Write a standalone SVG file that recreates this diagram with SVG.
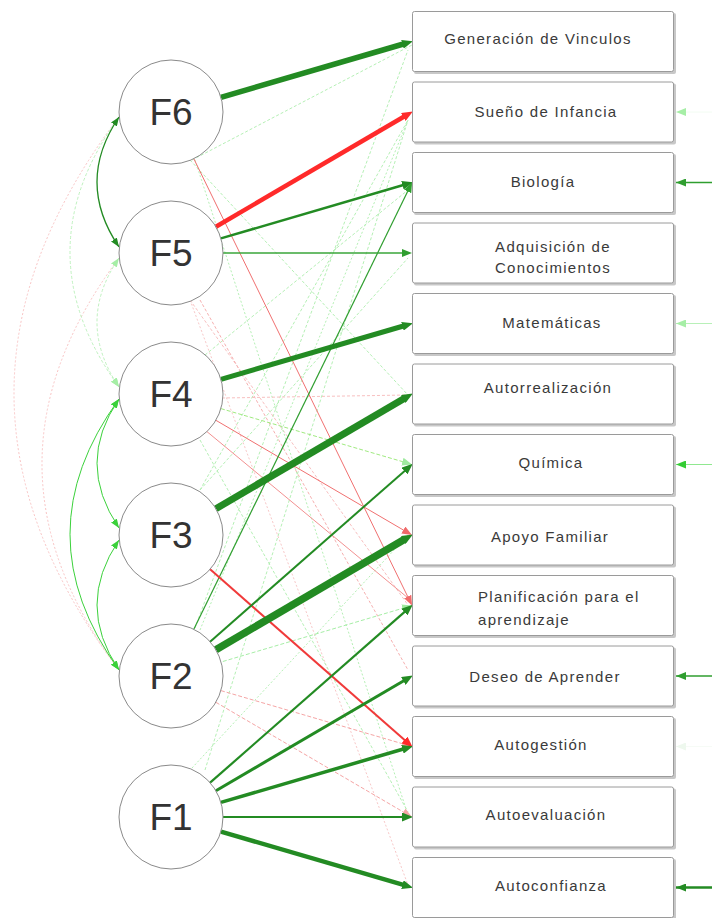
<svg xmlns="http://www.w3.org/2000/svg" width="712" height="918" viewBox="0 0 712 918">
<style>
.box{fill:#fff;stroke:#9a9a9a;stroke-width:1}
.shadow{fill:#c8c8c8}
.lbl{font-family:"Liberation Sans",Arial,sans-serif;font-size:15px;letter-spacing:1.3px;fill:#3a3a3a}
.fac{fill:#fff;stroke:#8a8a8a;stroke-width:1}
.flbl{font-family:"Liberation Sans",Arial,sans-serif;font-size:37px;fill:#333;text-anchor:middle}
.e{fill:none}
</style>
<defs>
<marker id="a-dg" viewBox="0 0 11 9" refX="1" refY="4.5" markerWidth="11" markerHeight="9" markerUnits="userSpaceOnUse" orient="auto"><path d="M0,0 L11,4.5 L0,9 z" fill="#238b23"/></marker>
<marker id="a-mg" viewBox="0 0 10 8" refX="1" refY="4" markerWidth="10" markerHeight="8" markerUnits="userSpaceOnUse" orient="auto"><path d="M0,0 L10,4 L0,8 z" fill="#2f9e2f"/></marker>
<marker id="a-r" viewBox="0 0 11 9" refX="1" refY="4.5" markerWidth="11" markerHeight="9" markerUnits="userSpaceOnUse" orient="auto"><path d="M0,0 L11,4.5 L0,9 z" fill="#ff2a2a"/></marker>
<marker id="a-mr" viewBox="0 0 10 8" refX="1" refY="4" markerWidth="10" markerHeight="8" markerUnits="userSpaceOnUse" orient="auto"><path d="M0,0 L10,4 L0,8 z" fill="#f06a6a"/></marker>
<marker id="a-lr" viewBox="0 0 10 8" refX="1" refY="4" markerWidth="10" markerHeight="8" markerUnits="userSpaceOnUse" orient="auto"><path d="M0,0 L10,4 L0,8 z" fill="#f5a5a5"/></marker>
<marker id="a-lg" viewBox="0 0 10 8" refX="1" refY="4" markerWidth="10" markerHeight="8" markerUnits="userSpaceOnUse" orient="auto"><path d="M0,0 L10,4 L0,8 z" fill="#9fea9f"/></marker>
<marker id="c-dg" viewBox="0 0 9 7" refX="9" refY="3.5" markerWidth="9" markerHeight="7" markerUnits="userSpaceOnUse" orient="auto-start-reverse"><path d="M0,0 L9,3.5 L0,7 z" fill="#238b23"/></marker>
<marker id="c-g" viewBox="0 0 9 7" refX="9" refY="3.5" markerWidth="9" markerHeight="7" markerUnits="userSpaceOnUse" orient="auto-start-reverse"><path d="M0,0 L9,3.5 L0,7 z" fill="#3bd13b"/></marker>
<marker id="c-lg" viewBox="0 0 9 7" refX="9" refY="3.5" markerWidth="9" markerHeight="7" markerUnits="userSpaceOnUse" orient="auto-start-reverse"><path d="M0,0 L9,3.5 L0,7 z" fill="#a6eea6"/></marker>
<marker id="r-dg" viewBox="0 0 10 8" refX="10" refY="4" markerWidth="10" markerHeight="8" markerUnits="userSpaceOnUse" orient="auto"><path d="M0,0 L10,4 L0,8 z" fill="#238b23"/></marker>
<marker id="r-mg" viewBox="0 0 10 8" refX="10" refY="4" markerWidth="10" markerHeight="8" markerUnits="userSpaceOnUse" orient="auto"><path d="M0,0 L10,4 L0,8 z" fill="#2f9e2f"/></marker>
<marker id="r-g" viewBox="0 0 10 8" refX="10" refY="4" markerWidth="10" markerHeight="8" markerUnits="userSpaceOnUse" orient="auto"><path d="M0,0 L10,4 L0,8 z" fill="#33cc33"/></marker>
<marker id="r-lg" viewBox="0 0 10 8" refX="10" refY="4" markerWidth="10" markerHeight="8" markerUnits="userSpaceOnUse" orient="auto"><path d="M0,0 L10,4 L0,8 z" fill="#a6eea6"/></marker>
<marker id="r-vl" viewBox="0 0 10 8" refX="10" refY="4" markerWidth="10" markerHeight="8" markerUnits="userSpaceOnUse" orient="auto"><path d="M0,0 L10,4 L0,8 z" fill="#eef8ee"/></marker>
</defs>
<rect width="712" height="918" fill="#fff"/>

<g id="connectors">
<!-- faint loadings -->
<g stroke-width="1" class="e">
<line x1="192" y1="160" x2="412" y2="45" stroke="#b5f0b5" stroke-dasharray="3,2"/>
<line x1="195" y1="628" x2="408" y2="50" stroke="#b5f0b5" stroke-dasharray="3,2"/>
<line x1="205" y1="770" x2="408" y2="120" stroke="#b5f0b5" stroke-dasharray="3,2"/>
<line x1="200" y1="630" x2="408" y2="120" stroke="#b5f0b5" stroke-dasharray="2,2"/>
<line x1="200" y1="490" x2="408" y2="120" stroke="#b5f0b5" stroke-dasharray="3,2"/>
<line x1="205" y1="355" x2="408" y2="190" stroke="#b5f0b5" stroke-dasharray="3,2"/>
<line x1="200" y1="490" x2="408" y2="258" stroke="#b5f0b5" stroke-dasharray="3,2"/>
<line x1="190" y1="160" x2="408" y2="395" stroke="#b5f0b5" stroke-dasharray="3,2"/>
<line x1="190" y1="300" x2="408" y2="605" stroke="#f8c0c0" stroke-dasharray="3,2"/>
<line x1="200" y1="300" x2="408" y2="670" stroke="#f6b0b0" stroke-dasharray="3,2"/>
<line x1="195" y1="160" x2="408" y2="815" stroke="#b5f0b5" stroke-dasharray="2,2"/>
<line x1="190" y1="300" x2="408" y2="885" stroke="#f8c8c8" stroke-dasharray="2,2"/>
<line x1="192" y1="768" x2="408" y2="535" stroke="#b5f0b5" stroke-dasharray="2,2"/>
<line x1="200" y1="440" x2="408" y2="812" stroke="#b5f0b5" stroke-dasharray="3,2"/>
<line x1="205" y1="430" x2="408" y2="598" stroke="#f29090"/>
<line x1="222" y1="398" x2="408" y2="395" stroke="#f8c0c0" stroke-dasharray="3,2"/>
</g>
<g class="e">
<line x1="220.9" y1="408.6" x2="403.4" y2="461.9" stroke="#a0ea80" stroke-width="1" stroke-dasharray="4,2" marker-end="url(#a-lg)"/>
<line x1="222.8" y1="661.5" x2="403.4" y2="608.1" stroke="#a6eea6" stroke-width="1" stroke-dasharray="4,2" marker-end="url(#a-lg)"/>
<line x1="220.9" y1="690.6" x2="403.4" y2="744.0" stroke="#f5a5a5" stroke-width="1" stroke-dasharray="4,2" marker-end="url(#a-lr)"/>
<line x1="215.9" y1="702.3" x2="404.2" y2="812.5" stroke="#f5a5a5" stroke-width="1" stroke-dasharray="4,2" marker-end="url(#a-lr)"/>
<line x1="193.8" y1="158.7" x2="408.1" y2="597.4" stroke="#f07070" stroke-width="1" marker-end="url(#a-mr)"/>
<line x1="215.9" y1="420.3" x2="404.2" y2="530.5" stroke="#f07070" stroke-width="1" marker-end="url(#a-mr)"/>
<line x1="193.8" y1="629.3" x2="408.1" y2="190.6" stroke="#2f9e2f" stroke-width="1.2" marker-end="url(#a-mg)"/>
<line x1="210.1" y1="569.3" x2="405.2" y2="740.6" stroke="#f03a3a" stroke-width="2" marker-end="url(#a-r)"/>
<!-- strong loadings -->
<line x1="220.9" y1="97.4" x2="403.4" y2="44.0" stroke="#238b23" stroke-width="5.5" marker-end="url(#a-dg)"/>
<line x1="215.9" y1="226.7" x2="404.2" y2="116.5" stroke="#ff2a2a" stroke-width="4.5" marker-end="url(#a-r)"/>
<line x1="220.9" y1="238.4" x2="403.4" y2="185.0" stroke="#238b23" stroke-width="2.5" marker-end="url(#a-dg)"/>
<line x1="223" y1="253" x2="403" y2="253" stroke="#3aa63a" stroke-width="1.5" marker-end="url(#a-mg)"/>
<line x1="220.9" y1="379.4" x2="403.4" y2="326.0" stroke="#238b23" stroke-width="5" marker-end="url(#a-dg)"/>
<line x1="215.9" y1="508.7" x2="404.2" y2="398.5" stroke="#238b23" stroke-width="7" marker-end="url(#a-dg)"/>
<line x1="210.1" y1="641.7" x2="405.2" y2="470.4" stroke="#238b23" stroke-width="2" marker-end="url(#a-dg)"/>
<line x1="215.9" y1="649.7" x2="404.2" y2="539.5" stroke="#238b23" stroke-width="7.5" marker-end="url(#a-dg)"/>
<line x1="210.1" y1="782.7" x2="405.2" y2="611.4" stroke="#238b23" stroke-width="2.2" marker-end="url(#a-dg)"/>
<line x1="215.9" y1="790.7" x2="404.2" y2="680.5" stroke="#238b23" stroke-width="3" marker-end="url(#a-dg)"/>
<line x1="220.9" y1="802.4" x2="403.4" y2="749.0" stroke="#238b23" stroke-width="3.5" marker-end="url(#a-dg)"/>
<line x1="223" y1="817" x2="403" y2="817" stroke="#238b23" stroke-width="2" marker-end="url(#a-dg)"/>
<line x1="220.9" y1="831.6" x2="403.4" y2="884.9" stroke="#238b23" stroke-width="4.5" marker-end="url(#a-dg)"/>
</g>
<!-- covariances -->
<g class="e">
<path d="M119,117 Q-91,393 119,670" stroke="#f9c4c4" stroke-width="1" stroke-dasharray="2,2"/>
<path d="M119,258 Q-35,464 119,670" stroke="#f9c4c4" stroke-width="1" stroke-dasharray="2,2"/>
<path d="M119,117 Q21,252 119,387" stroke="#bff2bf" stroke-width="1" stroke-dasharray="3,2" marker-end="url(#c-lg)"/>
<path d="M119,258 Q75,322 119,387" stroke="#bff2bf" stroke-width="1" stroke-dasharray="3,2" marker-start="url(#c-lg)" marker-end="url(#c-lg)"/>
<path d="M119,117 Q75,182 119,247" stroke="#238b23" stroke-width="1.3" marker-start="url(#c-dg)" marker-end="url(#c-dg)"/>
<path d="M119,399 Q75,463 119,528" stroke="#3bd13b" stroke-width="1" marker-start="url(#c-g)" marker-end="url(#c-g)"/>
<path d="M119,399 Q21,534 119,670" stroke="#3bd13b" stroke-width="1" marker-start="url(#c-g)" marker-end="url(#c-g)"/>
<path d="M119,540 Q75,605 119,670" stroke="#3bd13b" stroke-width="1" marker-start="url(#c-g)" marker-end="url(#c-g)"/>
</g>
<!-- residuals -->
<g class="e">
<line x1="712" y1="112" x2="676" y2="112" stroke="#f2fcf2" stroke-width="1" marker-end="url(#r-lg)"/>
<line x1="712" y1="182.5" x2="676" y2="182.5" stroke="#2f9e2f" stroke-width="1.5" marker-end="url(#r-mg)"/>
<line x1="712" y1="323.5" x2="676" y2="323.5" stroke="#b8f0b8" stroke-width="1.2" marker-end="url(#r-lg)"/>
<line x1="712" y1="464.5" x2="676" y2="464.5" stroke="#90e890" stroke-width="1.2" marker-end="url(#r-g)"/>
<line x1="712" y1="676" x2="676" y2="676" stroke="#2f9e2f" stroke-width="1.5" marker-end="url(#r-mg)"/>
<line x1="712" y1="746.5" x2="676" y2="746.5" stroke="#f6fbf6" stroke-width="1" marker-end="url(#r-vl)"/>
<line x1="712" y1="887.5" x2="676" y2="887.5" stroke="#238b23" stroke-width="2.5" marker-end="url(#r-dg)"/>
</g>
</g>

<g id="F6"><circle class="fac" cx="171" cy="112" r="52"/><text class="flbl" x="171" y="125">F6</text></g>
<g id="F5"><circle class="fac" cx="171" cy="253" r="52"/><text class="flbl" x="171" y="266">F5</text></g>
<g id="F4"><circle class="fac" cx="171" cy="394" r="52"/><text class="flbl" x="171" y="407">F4</text></g>
<g id="F3"><circle class="fac" cx="171" cy="535" r="52"/><text class="flbl" x="171" y="548">F3</text></g>
<g id="F2"><circle class="fac" cx="171" cy="676" r="52"/><text class="flbl" x="171" y="689">F2</text></g>
<g id="F1"><circle class="fac" cx="171" cy="817" r="52"/><text class="flbl" x="171" y="830">F1</text></g>

<g id="box1"><rect class="shadow" x="414" y="13" width="262" height="61" rx="2"/><rect class="box" x="412.5" y="11.5" width="261" height="60" rx="2"/><text class="lbl" x="538" y="44" text-anchor="middle">Generación de Vinculos</text></g>
<g id="box2"><rect class="shadow" x="414" y="83.5" width="262" height="61" rx="2"/><rect class="box" x="412.5" y="82" width="261" height="60" rx="2"/><text class="lbl" x="546" y="117" text-anchor="middle">Sueño de Infancia</text></g>
<g id="box3"><rect class="shadow" x="414" y="154" width="262" height="61" rx="2"/><rect class="box" x="412.5" y="152.5" width="261" height="60" rx="2"/><text class="lbl" x="543" y="187" text-anchor="middle">Biología</text></g>
<g id="box4"><rect class="shadow" x="414" y="224.5" width="262" height="61" rx="2"/><rect class="box" x="412.5" y="223" width="261" height="60" rx="2"/><text class="lbl" x="553" y="252" text-anchor="middle">Adquisición de</text><text class="lbl" x="553" y="273" text-anchor="middle">Conocimientos</text></g>
<g id="box5"><rect class="shadow" x="414" y="295" width="262" height="61" rx="2"/><rect class="box" x="412.5" y="293.5" width="261" height="60" rx="2"/><text class="lbl" x="552" y="328" text-anchor="middle">Matemáticas</text></g>
<g id="box6"><rect class="shadow" x="414" y="365.5" width="262" height="61" rx="2"/><rect class="box" x="412.5" y="364" width="261" height="60" rx="2"/><text class="lbl" x="548" y="393" text-anchor="middle">Autorrealización</text></g>
<g id="box7"><rect class="shadow" x="414" y="436" width="262" height="61" rx="2"/><rect class="box" x="412.5" y="434.5" width="261" height="60" rx="2"/><text class="lbl" x="551" y="468" text-anchor="middle">Química</text></g>
<g id="box8"><rect class="shadow" x="414" y="506.5" width="262" height="61" rx="2"/><rect class="box" x="412.5" y="505" width="261" height="60" rx="2"/><text class="lbl" x="550" y="542" text-anchor="middle">Apoyo Familiar</text></g>
<g id="box9"><rect class="shadow" x="414" y="577" width="262" height="61" rx="2"/><rect class="box" x="412.5" y="575.5" width="261" height="60" rx="2"/><text class="lbl" x="478" y="602">Planificación para el</text><text class="lbl" x="478" y="625">aprendizaje</text></g>
<g id="box10"><rect class="shadow" x="414" y="647.5" width="262" height="61" rx="2"/><rect class="box" x="412.5" y="646" width="261" height="60" rx="2"/><text class="lbl" x="545" y="682" text-anchor="middle">Deseo de Aprender</text></g>
<g id="box11"><rect class="shadow" x="414" y="718" width="262" height="61" rx="2"/><rect class="box" x="412.5" y="716.5" width="261" height="60" rx="2"/><text class="lbl" x="541" y="750" text-anchor="middle">Autogestión</text></g>
<g id="box12"><rect class="shadow" x="414" y="788.5" width="262" height="61" rx="2"/><rect class="box" x="412.5" y="787" width="261" height="60" rx="2"/><text class="lbl" x="546" y="820" text-anchor="middle">Autoevaluación</text></g>
<g id="box13"><rect class="shadow" x="414" y="859" width="262" height="61" rx="2"/><rect class="box" x="412.5" y="857.5" width="261" height="60" rx="2"/><text class="lbl" x="551" y="891" text-anchor="middle">Autoconfianza</text></g>
</svg>
